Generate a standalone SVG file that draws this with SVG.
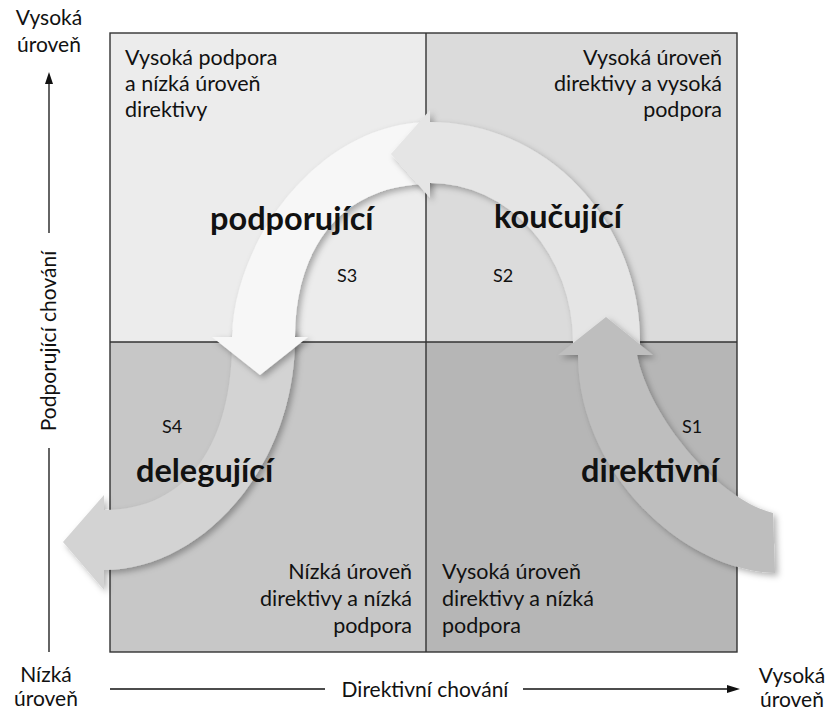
<svg xmlns="http://www.w3.org/2000/svg" width="827" height="711" viewBox="0 0 827 711">
<style>
  text { font-family: Lato, "Liberation Sans", sans-serif; fill: #111; }
  .q { font-size: 21.5px; }
  .big { font-size: 32.5px; font-weight: bold; }
  .s { font-size: 18px; }
  .ax { font-size: 21px; }
  .grid { stroke: #333; stroke-width: 1.4; }
  .axis { stroke: #111; stroke-width: 1.3; fill: none; }
</style>
<defs>
  <filter id="sh" x="-20%" y="-20%" width="140%" height="140%">
    <feDropShadow dx="3" dy="3" stdDeviation="3" flood-color="#000" flood-opacity="0.3"/>
  </filter>
</defs>
<rect width="827" height="711" fill="#fff"/>

<g id="quadrants">
  <rect id="q-tl" x="110" y="33" width="316" height="309" fill="#ececec"/>
  <rect id="q-tr" x="426" y="33" width="311" height="309" fill="#dbdbdb"/>
  <rect id="q-bl" x="110" y="342" width="316" height="310" fill="#c7c7c7"/>
  <rect id="q-br" x="426" y="342" width="311" height="310" fill="#b6b6b6"/>
  <rect x="110" y="33" width="627" height="619" fill="none" class="grid"/>
  <line x1="426" y1="33" x2="426" y2="652" class="grid"/>
  <line x1="110" y1="342" x2="737" y2="342" class="grid"/>
</g>

<g id="connectors">
  <path id="arrow-s4" filter="url(#sh)" fill="#d3d3d3" d="M232,330 L232,342 C232,440 190,510 104,510 L104,495 L63,542 L104,590 L104,570 C200,570 293,470 295,342 L295,330 Z"/>
  <path id="arrow-s3" filter="url(#sh)" fill="#f7f7f7" d="M430,122 C320,122 234,240 232,337 L212,337 L260,375 L308,337 L295,337 C295,250 340,184 430,184 Z"/>
  <path id="arrow-s2" filter="url(#sh)" fill="#e5e5e5" d="M640,350 L640,342 A210,220 0 0 0 430,122 L430,110 L391,154 L430,198 L430,183 A143,159 0 0 1 573,342 L573,350 Z"/>
  <path id="arrow-s1" filter="url(#sh)" fill="#bebebe" d="M606,317 L653,355 L637,355 C650,420 720,500 773,513 L775,573 C680,570 578,470 578,355 L558,355 Z"/>
</g>

<g id="node-tl">
  <text class="q" x="125" y="65">Vysoká podpora</text>
  <text class="q" x="125" y="91">a nízká úroveň</text>
  <text class="q" x="125" y="117">direktivy</text>
</g>
<g id="node-tr" text-anchor="end">
  <text class="q" x="722" y="65">Vysoká úroveň</text>
  <text class="q" x="722" y="91">direktivy a vysoká</text>
  <text class="q" x="722" y="117">podpora</text>
</g>
<g id="node-bl" text-anchor="end">
  <text class="q" x="412" y="579">Nízká úroveň</text>
  <text class="q" x="412" y="606">direktivy a nízká</text>
  <text class="q" x="412" y="633">podpora</text>
</g>
<g id="node-br">
  <text class="q" x="442" y="579">Vysoká úroveň</text>
  <text class="q" x="442" y="606">direktivy a nízká</text>
  <text class="q" x="442" y="633">podpora</text>
</g>

<g id="label-s3">
  <text class="big" x="210" y="230">podporující</text>
  <text class="s" x="337" y="282">S3</text>
</g>
<g id="label-s2">
  <text class="big" x="494" y="228">koučující</text>
  <text class="s" x="493" y="282">S2</text>
</g>
<g id="label-s4">
  <text class="s" x="162" y="433">S4</text>
  <text class="big" x="136" y="482">delegující</text>
</g>
<g id="label-s1">
  <text class="s" x="682" y="433">S1</text>
  <text class="big" x="581" y="482">direktivní</text>
</g>

<g id="axes">
  <text class="ax" x="49" y="25" text-anchor="middle">Vysoká</text>
  <text class="ax" x="49" y="52" text-anchor="middle">úroveň</text>
  <line x1="49" y1="82" x2="49" y2="233" class="axis"/>
  <polygon points="49,72 45,84 53,84" fill="#111"/>
  <text class="ax" transform="translate(56,341) rotate(-90)" text-anchor="middle">Podporující chování</text>
  <line x1="49" y1="448" x2="49" y2="652" class="axis"/>
  <text class="ax" x="46" y="682" text-anchor="middle">Nízká</text>
  <text class="ax" x="46" y="706" text-anchor="middle">úroveň</text>
  <line x1="110" y1="689" x2="325" y2="689" class="axis"/>
  <text class="ax" x="425" y="697" text-anchor="middle">Direktivní chování</text>
  <line x1="523" y1="689" x2="730" y2="689" class="axis"/>
  <polygon points="740,689 727,685 727,693" fill="#111"/>
  <text class="ax" x="792" y="683" text-anchor="middle">Vysoká</text>
  <text class="ax" x="792" y="707" text-anchor="middle">úroveň</text>
</g>
</svg>
